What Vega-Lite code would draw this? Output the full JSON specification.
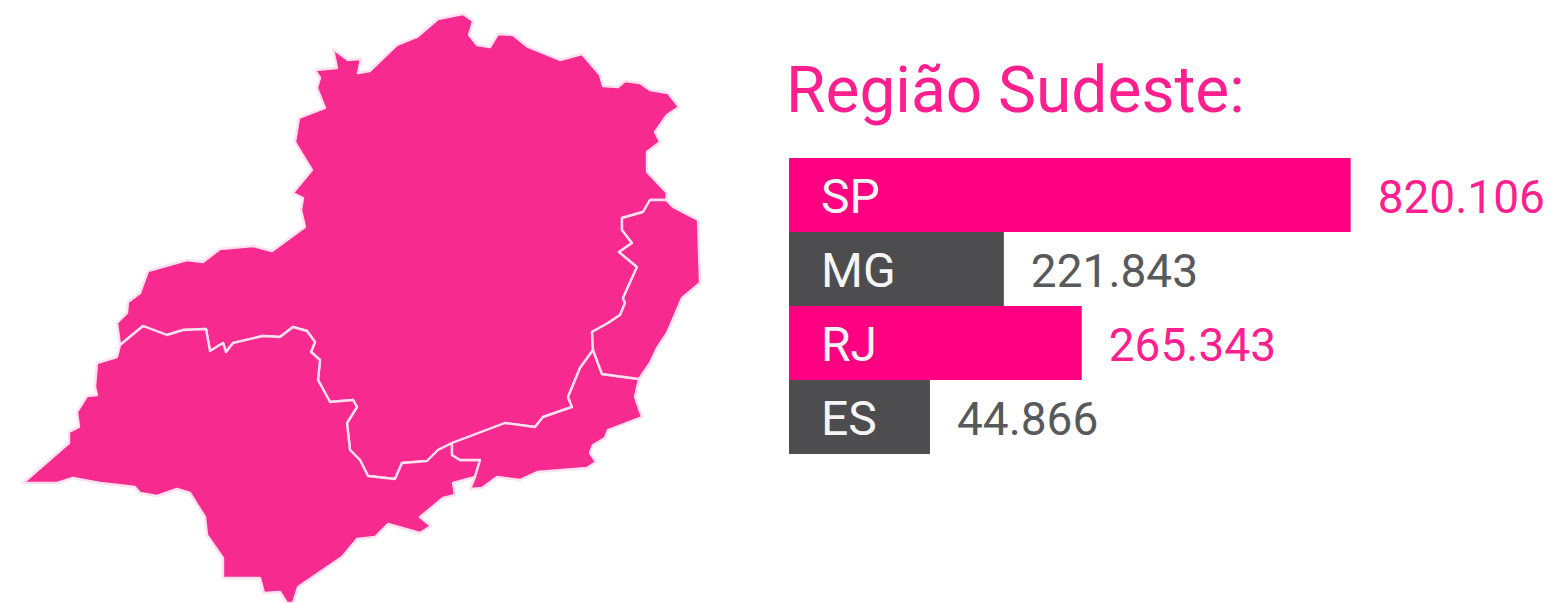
{
"$schema":"https://vega.github.io/schema/vega-lite/v6.json",
"padding":0,
"background":"white",
"spacing":0,
"config":{"view":{"stroke":null},"concat":{"spacing":0},"font":"Roboto"},
"hconcat":[
{
"width":786,"height":603,
"data":{"values":[
{"type":"Feature","properties":{"uf":"MG"},"geometry":{"type":"Polygon","coordinates":[[[-46.84,-14.98],[-46.54,-15.20],[-46.28,-15.18],[-46.34,-15.46],[-46.10,-15.42],[-45.56,-14.90],[-45.16,-14.74],[-44.74,-14.38],[-44.24,-14.28],[-44.04,-14.42],[-44.12,-14.70],[-43.96,-14.90],[-43.70,-14.94],[-43.54,-14.68],[-43.24,-14.70],[-42.94,-14.94],[-42.30,-15.20],[-41.86,-15.08],[-41.50,-15.50],[-41.44,-15.72],[-41.14,-15.74],[-41.00,-15.62],[-40.70,-15.66],[-40.50,-15.80],[-40.14,-15.86],[-39.92,-16.14],[-40.16,-16.30],[-40.40,-16.64],[-40.30,-16.84],[-40.56,-17.04],[-40.56,-17.44],[-40.16,-17.86],[-40.18,-18.00],[-40.50,-18.00],[-40.64,-18.24],[-41.06,-18.36],[-41.06,-18.60],[-40.86,-18.86],[-41.12,-19.04],[-40.76,-19.34],[-41.04,-19.96],[-41.00,-20.06],[-41.10,-20.30],[-41.34,-20.46],[-41.66,-20.64],[-41.64,-21.00],[-41.90,-21.36],[-42.14,-21.94],[-42.06,-22.14],[-42.64,-22.34],[-42.80,-22.54],[-43.40,-22.46],[-44.46,-22.86],[-44.74,-23.00],[-44.96,-23.22],[-45.46,-23.26],[-45.60,-23.58],[-46.14,-23.52],[-46.30,-23.20],[-46.50,-23.00],[-46.56,-22.46],[-46.36,-22.14],[-46.44,-22.00],[-46.90,-22.04],[-47.14,-21.60],[-47.10,-21.20],[-47.28,-21.04],[-47.20,-20.84],[-47.36,-20.62],[-47.64,-20.54],[-47.90,-20.74],[-48.24,-20.72],[-48.84,-20.86],[-48.98,-21.04],[-49.04,-20.86],[-49.30,-21.02],[-49.38,-20.58],[-49.84,-20.60],[-50.16,-20.70],[-50.64,-20.52],[-51.10,-20.90],[-51.16,-20.46],[-50.96,-20.26],[-50.94,-20.04],[-50.70,-19.86],[-50.54,-19.42],[-49.76,-19.20],[-49.44,-19.24],[-49.10,-18.98],[-48.44,-18.92],[-48.06,-19.02],[-47.40,-18.54],[-47.48,-18.20],[-47.44,-17.96],[-47.64,-17.86],[-47.26,-17.40],[-47.60,-16.84],[-47.52,-16.36],[-47.00,-16.16],[-47.16,-15.76],[-47.10,-15.56],[-47.20,-15.40],[-46.76,-15.36],[-46.84,-14.98]]]}},
{"type":"Feature","properties":{"uf":"SP"},"geometry":{"type":"Polygon","coordinates":[[[-51.10,-20.90],[-50.64,-20.52],[-50.16,-20.70],[-49.84,-20.60],[-49.38,-20.58],[-49.30,-21.02],[-49.04,-20.86],[-48.98,-21.04],[-48.84,-20.86],[-48.24,-20.72],[-47.90,-20.74],[-47.64,-20.54],[-47.36,-20.62],[-47.20,-20.84],[-47.28,-21.04],[-47.10,-21.20],[-47.14,-21.60],[-46.90,-22.04],[-46.44,-22.00],[-46.36,-22.14],[-46.56,-22.46],[-46.50,-23.00],[-46.30,-23.20],[-46.14,-23.52],[-45.60,-23.58],[-45.46,-23.26],[-44.96,-23.22],[-44.74,-23.00],[-44.46,-22.86],[-44.46,-23.10],[-44.30,-23.20],[-43.90,-23.20],[-44.00,-23.54],[-44.44,-23.66],[-44.40,-23.90],[-44.64,-23.96],[-45.10,-24.34],[-44.88,-24.52],[-45.10,-24.66],[-45.74,-24.48],[-46.00,-24.74],[-46.36,-24.78],[-46.66,-25.14],[-47.54,-25.74],[-47.64,-26.06],[-47.76,-26.06],[-47.90,-25.84],[-48.22,-25.86],[-48.30,-25.56],[-49.04,-25.56],[-49.04,-25.16],[-49.36,-24.70],[-49.40,-24.34],[-49.70,-23.86],[-49.96,-23.78],[-50.36,-23.92],[-50.70,-23.86],[-50.80,-23.74],[-51.50,-23.66],[-52.04,-23.56],[-52.36,-23.66],[-53.04,-23.66],[-52.12,-22.86],[-52.12,-22.64],[-51.92,-22.54],[-51.96,-22.24],[-51.76,-21.92],[-51.56,-21.90],[-51.60,-21.74],[-51.56,-21.26],[-51.16,-21.14],[-51.10,-20.90]]]}},
{"type":"Feature","properties":{"uf":"RJ"},"geometry":{"type":"Polygon","coordinates":[[[-41.64,-21.00],[-41.90,-21.36],[-42.14,-21.94],[-42.06,-22.14],[-42.64,-22.34],[-42.80,-22.54],[-43.40,-22.46],[-44.46,-22.86],[-44.46,-23.10],[-44.30,-23.20],[-43.90,-23.20],[-44.00,-23.54],[-44.10,-23.78],[-43.86,-23.76],[-43.56,-23.54],[-43.10,-23.60],[-42.76,-23.44],[-41.76,-23.36],[-41.58,-23.24],[-41.70,-23.06],[-41.64,-22.90],[-41.40,-22.76],[-41.34,-22.60],[-40.66,-22.34],[-40.80,-21.94],[-40.72,-21.58],[-41.46,-21.48],[-41.64,-21.00]]]}},
{"type":"Feature","properties":{"uf":"ES"},"geometry":{"type":"Polygon","coordinates":[[[-40.18,-18.00],[-40.50,-18.00],[-40.64,-18.24],[-41.06,-18.36],[-41.06,-18.60],[-40.86,-18.86],[-41.12,-19.04],[-40.76,-19.34],[-41.04,-19.96],[-41.00,-20.06],[-41.10,-20.30],[-41.34,-20.46],[-41.66,-20.64],[-41.64,-21.00],[-41.46,-21.48],[-40.72,-21.58],[-40.50,-21.26],[-40.36,-20.96],[-40.16,-20.66],[-39.86,-19.96],[-39.50,-19.66],[-39.54,-18.40],[-40.04,-18.14],[-40.18,-18.00]]]}}
]},
"projection":{"type":"identity","reflectY":true,"scale":50,"translate":[2675,-700]},
"mark":{"type":"geoshape","fill":"#F72A8F","stroke":"#FFE0EF","strokeWidth":2.4,"strokeJoin":"round"},
"encoding":{}
},
{
"width":767,"height":603,
"title":{"text":"Região Sudeste:","font":"Roboto","fontSize":64,"fontWeight":"normal","color":"#FF1F8F","anchor":"start","frame":"group","orient":"top","baseline":"alphabetic","offset":-176,"dx":-3},
"data":{"values":[
{"uf":"SP","comprimento":820106,"rotulo":"820.106"},
{"uf":"MG","comprimento":313700,"rotulo":"221.843"},
{"uf":"RJ","comprimento":427500,"rotulo":"265.343"},
{"uf":"ES","comprimento":205800,"rotulo":"44.866"}
]},
"encoding":{
"y":{"field":"uf","type":"nominal","sort":null,"axis":null,"scale":{"domain":["SP","MG","RJ","ES"],"range":[158,454],"paddingInner":0,"paddingOuter":0}}
},
"layer":[
{"mark":{"type":"bar"},
 "encoding":{
 "x":{"field":"comprimento","type":"quantitative","axis":null,"scale":{"domain":[0,1120000],"nice":false}},
 "color":{"field":"uf","type":"nominal","legend":null,"scale":{"domain":["SP","MG","RJ","ES"],"range":["#FF0082","#4D4D4F","#FF0082","#4D4D4F"]}}
 }},
{"mark":{"type":"text","align":"left","baseline":"middle","dx":32,"dy":4,"font":"Roboto","fontSize":48,"fontWeight":"normal","color":"#F5F5F5"},
 "encoding":{
 "x":{"datum":0,"type":"quantitative"},
 "text":{"field":"uf","type":"nominal"}
 }},
{"mark":{"type":"text","align":"left","baseline":"middle","dx":27,"dy":4,"font":"Roboto","fontSize":46},
 "encoding":{
 "x":{"field":"comprimento","type":"quantitative"},
 "text":{"field":"rotulo","type":"nominal"},
 "color":{"field":"uf","type":"nominal","legend":null,"scale":{"domain":["SP","MG","RJ","ES"],"range":["#FF1F8F","#58595B","#FF1F8F","#58595B"]}}
 }}
],
"resolve":{"scale":{"color":"independent"}}
}
]
}
